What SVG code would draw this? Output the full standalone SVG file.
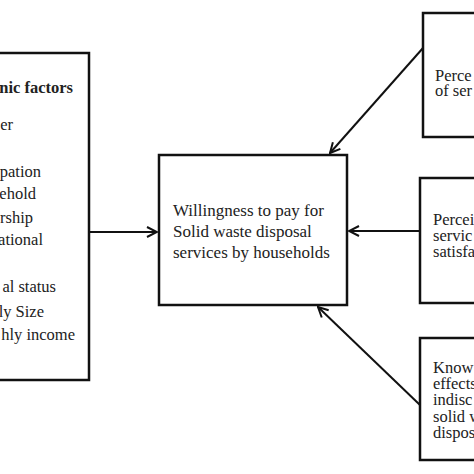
<svg xmlns="http://www.w3.org/2000/svg" width="474" height="474" viewBox="0 0 474 474">
<style>
.box{fill:#fff;stroke:#111;stroke-width:2.5}
.t{font-family:"Liberation Serif","Times New Roman",serif;font-size:16.5px;fill:#222}
.m{font-size:17px}
.b{font-weight:bold}
.c{stroke:#111;stroke-width:2;fill:none}
</style>
<defs>
<marker id="ah" viewBox="0 0 12 12" refX="11" refY="6" markerWidth="12" markerHeight="12" markerUnits="userSpaceOnUse" orient="auto">
<path d="M1,1 L11,6 L1,11" fill="none" stroke="#111" stroke-width="2"/>
</marker>
</defs>
<rect width="474" height="474" fill="#fff"/>
<g id="connectors">
<line class="c" x1="89" y1="232" x2="157" y2="232" marker-end="url(#ah)"/>
<line class="c" x1="423" y1="48" x2="330" y2="153" marker-end="url(#ah)"/>
<line class="c" x1="420" y1="231" x2="349" y2="231" marker-end="url(#ah)"/>
<line class="c" x1="420" y1="405" x2="318" y2="307" marker-end="url(#ah)"/>
</g>
<g id="socio">
<rect class="box" x="-20" y="53" width="109" height="327"/>
<g class="t" text-anchor="end">
<text class="b" x="73" y="93">nic factors</text>
<text x="13" y="130">er</text>
<text x="41" y="177">pation</text>
<text x="36" y="199">ehold</text>
<text x="33" y="223">rship</text>
<text x="43" y="245">ational</text>
<text x="56" y="292">al status</text>
<text x="44" y="317">ly Size</text>
<text x="75" y="340">hly income</text>
</g>
</g>
<g id="wtp">
<rect class="box" x="159" y="155" width="188" height="150"/>
<g class="t m">
<text x="173" y="216">Willingness to pay for</text>
<text x="173" y="237">Solid waste disposal</text>
<text x="173" y="258">services by households</text>
</g>
</g>
<g id="quality">
<rect class="box" x="423" y="13" width="70" height="124"/>
<g class="t">
<text x="435" y="81">Perce</text>
<text x="435" y="96">of ser</text>
</g>
</g>
<g id="satisfaction">
<rect class="box" x="420" y="178" width="70" height="125"/>
<g class="t">
<text x="433" y="225">Percei</text>
<text x="433" y="241">servic</text>
<text x="433" y="257">satisfa</text>
</g>
</g>
<g id="knowledge">
<rect class="box" x="420" y="338" width="70" height="122"/>
<g class="t">
<text x="433" y="373">Know</text>
<text x="433" y="389">effects</text>
<text x="433" y="405">indisc</text>
<text x="433" y="422">solid w</text>
<text x="433" y="438">dispos</text>
</g>
</g>
</svg>
